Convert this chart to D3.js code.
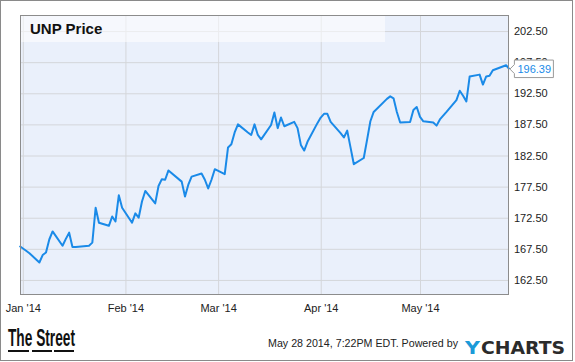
<!DOCTYPE html>
<html>
<head>
<meta charset="utf-8">
<script src="https://cdn.jsdelivr.net/npm/d3@7"></script>
<style>
  body { margin: 0; background: #fff; }
  svg { display: block; font-family: "Liberation Sans", Arial, sans-serif; }
</style>
</head>
<body>
<div id="chart"></div>
<script>
// UNP daily close, Dec 31 2013 - May 28 2014
var dates = [
  "2013-12-31",
  "2014-01-02","2014-01-03","2014-01-06","2014-01-07","2014-01-08","2014-01-09","2014-01-10",
  "2014-01-13","2014-01-14","2014-01-15","2014-01-16","2014-01-17","2014-01-21","2014-01-22",
  "2014-01-23","2014-01-24","2014-01-27","2014-01-28","2014-01-29","2014-01-30","2014-01-31",
  "2014-02-03","2014-02-04","2014-02-05","2014-02-06","2014-02-07","2014-02-10","2014-02-11",
  "2014-02-12","2014-02-13","2014-02-14","2014-02-18","2014-02-19","2014-02-20","2014-02-21",
  "2014-02-24","2014-02-25","2014-02-26","2014-02-27","2014-02-28",
  "2014-03-03","2014-03-04","2014-03-05","2014-03-06","2014-03-07","2014-03-10","2014-03-11",
  "2014-03-12","2014-03-13","2014-03-14","2014-03-17","2014-03-18","2014-03-19","2014-03-20",
  "2014-03-21","2014-03-24","2014-03-25","2014-03-26","2014-03-27","2014-03-28","2014-03-31",
  "2014-04-01","2014-04-02","2014-04-03","2014-04-04","2014-04-07","2014-04-08","2014-04-09",
  "2014-04-10","2014-04-11","2014-04-14","2014-04-15","2014-04-16","2014-04-17","2014-04-21",
  "2014-04-22","2014-04-23","2014-04-24","2014-04-25","2014-04-28","2014-04-29","2014-04-30",
  "2014-05-01","2014-05-02","2014-05-05","2014-05-06","2014-05-07","2014-05-08","2014-05-09",
  "2014-05-12","2014-05-13","2014-05-14","2014-05-15","2014-05-16","2014-05-19","2014-05-20",
  "2014-05-21","2014-05-22","2014-05-23","2014-05-27","2014-05-28"
];
var prices = [
  167.95,
  167.2, 166.8, 165.3, 166.5, 166.9, 169.0, 170.3,
  168.0, 169.1, 170.1, 167.8, 167.8, 168.0, 168.5,
  174.1, 171.7, 171.2, 172.7, 171.9, 176.1, 174.1,
  171.7, 173.2, 172.5, 175.1, 176.8, 174.8, 177.6,
  178.7, 178.6, 180.1, 178.3, 175.9, 177.8, 179.1,
  179.6, 178.6, 177.2, 178.6, 180.3,
  179.5, 183.8, 184.3, 186.2, 187.5, 186.2, 185.8,
  187.5, 185.8, 185.1, 187.4, 189.4, 186.9, 188.6,
  187.2, 187.9, 186.9, 184.2, 183.3, 184.7, 187.7,
  188.6, 189.2, 189.2, 187.9, 186.1, 185.4, 186.5,
  183.8, 181.1, 182.1, 185.0, 188.0, 189.5, 191.6,
  192.0, 191.7, 189.5, 187.8, 187.9, 189.8, 190.3,
  188.7, 188.0, 187.8, 187.3, 188.3, 188.9, 189.5,
  191.4, 192.9, 192.1, 191.2, 195.2, 195.5, 193.9,
  195.2, 195.3, 196.2, 197.0, 196.39
];
var priceTicks = [162.5, 167.5, 172.5, 177.5, 182.5, 187.5, 192.5, 197.5, 202.5];
var monthTicks = ["2014-01-01", "2014-02-01", "2014-03-01", "2014-04-01", "2014-05-01"];
var chartTitle = "UNP Price";
var footerText = "May 28 2014, 7:22PM EDT. Powered by";

class PriceChart {

  constructor(_parentElement, _width, _height) {
    this.parentElement = _parentElement;
    this.width = _width;
    this.height = _height;
    this.initializeChart();
  }

  initializeChart() {
    var vis = this;
    var parse = d3.timeParse("%Y-%m-%d");

    vis.data = dates.map((d, i) => ({ date: parse(d), price: prices[i] }));
    vis.months = monthTicks.map(parse);

    // plot frame
    vis.plot = { left: 20, top: 15, right: 509, bottom: 295 };

    vis.svg = d3.select(vis.parentElement)
      .append("svg")
      .attr("width", vis.width)
      .attr("height", vis.height);

    vis.x = d3.scaleTime()
      .domain([vis.data[0].date, vis.data[vis.data.length - 1].date])
      .range([19.5, 509.4]);

    vis.y = d3.scaleLinear()
      .domain([160, 205])
      .range([295.5, 15.5]);

    vis.updateChart();
  }

  updateChart() {
    var vis = this;
    var p = vis.plot;

    // outer border
    vis.svg.append("rect")
      .attr("x", 0.5).attr("y", 0.5)
      .attr("width", 572).attr("height", 360)
      .attr("fill", "#fff")
      .attr("stroke", "#8a8a8a");

    // plot background
    vis.svg.append("rect")
      .attr("x", p.left).attr("y", p.top)
      .attr("width", p.right - p.left).attr("height", p.bottom - p.top)
      .attr("fill", "#eaf0fb");

    // horizontal grid
    vis.svg.append("g")
      .attr("class", "grid")
      .attr("transform", "translate(" + p.left + ",0)")
      .call(d3.axisRight(vis.y).tickValues(priceTicks).tickSize(p.right - p.left).tickFormat(""))
      .call(g => g.select(".domain").remove())
      .call(g => g.selectAll("line").attr("stroke", "#d4d6da"));

    // vertical grid
    vis.svg.append("g")
      .attr("class", "grid")
      .attr("transform", "translate(0," + p.top + ")")
      .call(d3.axisBottom(vis.x).tickValues(vis.months).tickSize(p.bottom - p.top).tickFormat(""))
      .call(g => g.select(".domain").remove())
      .call(g => g.selectAll("line").attr("stroke", "#d4d6da"));

    // title band
    vis.svg.append("rect")
      .attr("x", p.left).attr("y", p.top)
      .attr("width", 365).attr("height", 27)
      .attr("fill", "rgba(255,255,255,0.55)");

    vis.svg.append("text")
      .attr("x", 30).attr("y", 34)
      .attr("font-size", "15px")
      .attr("font-weight", "bold")
      .attr("fill", "#111")
      .text(chartTitle);

    // price line
    vis.line = d3.line()
      .x(d => vis.x(d.date))
      .y(d => vis.y(d.price));

    vis.svg.append("path")
      .datum(vis.data)
      .attr("d", vis.line)
      .attr("fill", "none")
      .attr("stroke", "#1a8ae8")
      .attr("stroke-width", 2)
      .attr("stroke-linejoin", "round");

    // frame
    vis.svg.append("rect")
      .attr("x", p.left + 0.5).attr("y", p.top + 0.5)
      .attr("width", p.right - p.left - 1).attr("height", p.bottom - p.top - 1)
      .attr("fill", "none")
      .attr("stroke", "#8c8c8c");

    // right axis labels
    vis.svg.append("g")
      .attr("transform", "translate(" + p.right + ",0)")
      .call(d3.axisRight(vis.y).tickValues(priceTicks).tickSize(0).tickPadding(5).tickFormat(d3.format(".2f")))
      .call(g => g.select(".domain").remove())
      .call(g => g.selectAll("text")
        .attr("font-family", "'Liberation Sans', Arial, sans-serif")
        .attr("font-size", "11px")
        .attr("fill", "#222"));

    // bottom axis labels
    vis.svg.append("g")
      .attr("transform", "translate(0," + p.bottom + ")")
      .call(d3.axisBottom(vis.x).tickValues(vis.months).tickSize(0).tickPadding(9).tickFormat(d3.timeFormat("%b '%y")))
      .call(g => g.select(".domain").remove())
      .call(g => g.selectAll("text")
        .attr("font-family", "'Liberation Sans', Arial, sans-serif")
        .attr("font-size", "11px")
        .attr("fill", "#222"));

    // last value flag (covers the 197.50 label, as in the original)
    var last = vis.data[vis.data.length - 1];
    var lx = vis.x(last.date), ly = vis.y(last.price);
    vis.svg.append("path")
      .attr("d", "M" + (lx + 0.5) + "," + ly +
        "L" + (lx + 5) + "," + (ly - 4.5) +
        "V" + (ly - 9) + "H" + (lx + 44) + "V" + (ly + 8.5) +
        "H" + (lx + 5) + "V" + (ly + 4.5) + "Z")
      .attr("fill", "#fff")
      .attr("stroke", "#9a9a9a");
    vis.svg.append("text")
      .attr("x", lx + 8).attr("y", ly)
      .attr("dy", "0.35em")
      .attr("font-size", "11px")
      .attr("fill", "#1a8ae8")
      .text(d3.format(".2f")(last.price));

    // footer: TheStreet logo
    vis.svg.append("text")
      .attr("x", 8).attr("y", 346)
      .attr("font-size", "23px")
      .attr("font-weight", "bold")
      .attr("textLength", 67)
      .attr("lengthAdjust", "spacingAndGlyphs")
      .attr("fill", "#111")
      .text("The Street");
    vis.svg.selectAll(".dash")
      .data([[8, 29], [32, 52], [54, 74]])
      .enter().append("line")
      .attr("class", "dash")
      .attr("x1", d => d[0]).attr("x2", d => d[1])
      .attr("y1", 351).attr("y2", 351)
      .attr("stroke", "#111")
      .attr("stroke-width", 2);

    vis.svg.append("text")
      .attr("x", 268).attr("y", 347)
      .attr("font-size", "11px")
      .attr("textLength", 190)
      .attr("lengthAdjust", "spacingAndGlyphs")
      .attr("fill", "#222")
      .text(footerText);

    // YCharts logo
    vis.svg.append("text")
      .attr("x", 465).attr("y", 354)
      .attr("font-family", "'DejaVu Sans', sans-serif")
      .attr("font-size", "18px")
      .attr("font-weight", "bold")
      .attr("textLength", 15)
      .attr("lengthAdjust", "spacingAndGlyphs")
      .attr("fill", "#1b9ad8")
      .text("Y");
    vis.svg.append("text")
      .attr("x", 481).attr("y", 354)
      .attr("font-family", "'DejaVu Sans', sans-serif")
      .attr("font-size", "18px")
      .attr("font-weight", "bold")
      .attr("textLength", 84)
      .attr("lengthAdjust", "spacingAndGlyphs")
      .attr("fill", "#2b2b2b")
      .text("CHARTS");
  }
}

new PriceChart("#chart", 575, 362);
</script>
</body>
</html>
